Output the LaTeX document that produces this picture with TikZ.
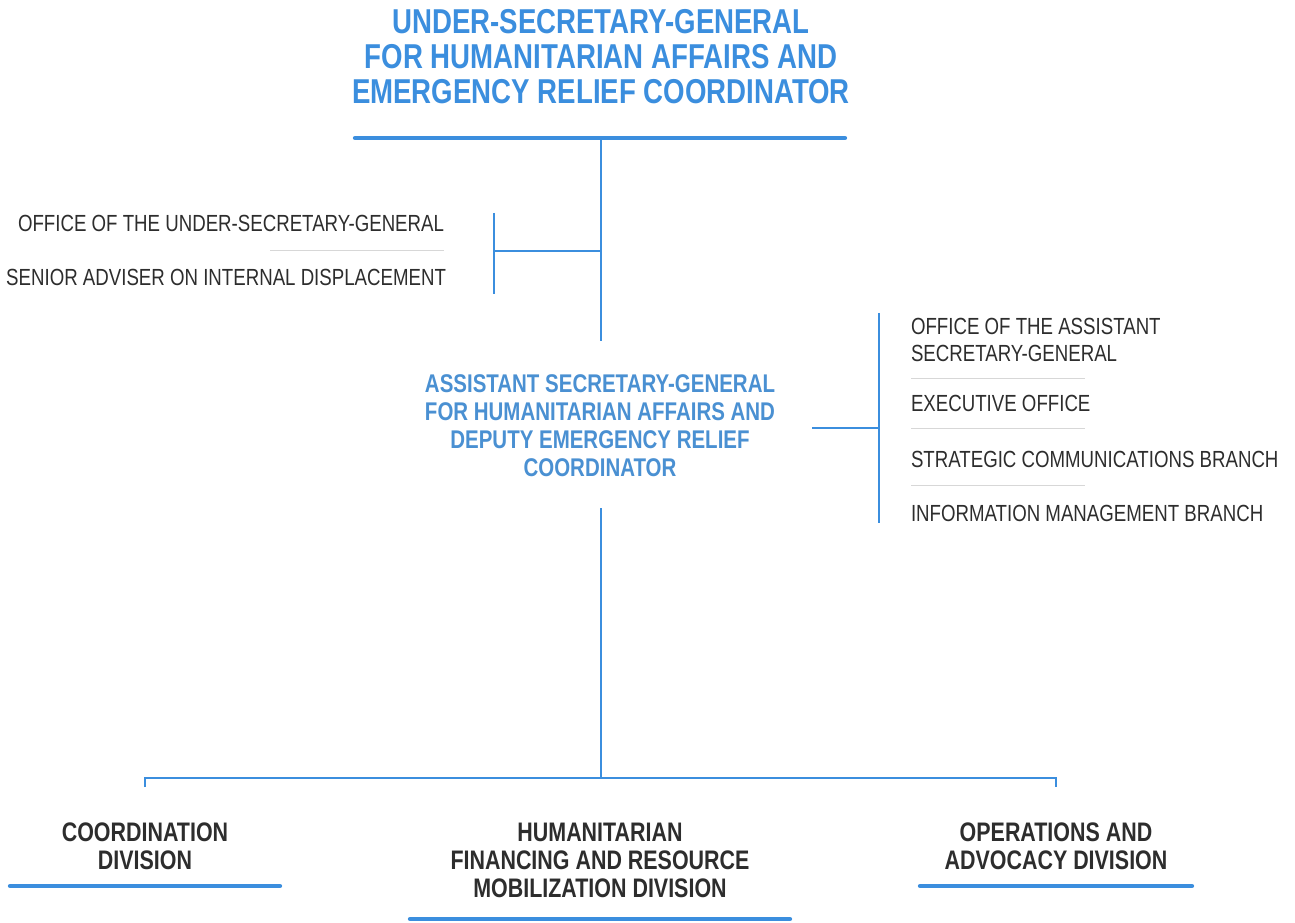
\documentclass[tikz,border=0pt]{standalone}
\usepackage{fontspec}
\setmainfont{Liberation Sans}[FakeStretch=0.80]
\usepackage{xcolor}
\usepackage{tikz}

\definecolor{ochablue}{RGB}{59,142,222}
\definecolor{asgblue}{RGB}{74,144,210}
\definecolor{inkgray}{RGB}{45,45,45}
\definecolor{rulegray}{RGB}{215,215,215}

\begin{document}
\begin{tikzpicture}[
    x=0.75pt, y=-0.75pt,
    every node/.style={inner sep=0pt, outer sep=0pt},
    usgtext/.style={align=center, font=\bfseries\fontsize{25.9}{26.25}\selectfont, text=ochablue},
    asgtext/.style={align=center, font=\bfseries\fontsize{19.2}{21}\selectfont, text=asgblue},
    divtext/.style={align=center, font=\bfseries\fontsize{20.1}{21}\selectfont, text=inkgray},
    unittext/.style={font=\fontsize{17.5}{20}\selectfont, text=inkgray},
    link/.style={draw=ochablue, line width=1.6pt},
    bar/.style={draw=ochablue, line width=3.2pt, line cap=round},
    sepline/.style={draw=rulegray, line width=0.75pt}
]
\useasboundingbox (0,0) rectangle (1295,923);

% Nodes
\node[usgtext] (usg) at (601,56.7) {UNDER-SECRETARY-GENERAL\\FOR HUMANITARIAN AFFAIRS AND\\EMERGENCY RELIEF COORDINATOR};
\node[asgtext] (asg) at (600,425.5) {ASSISTANT SECRETARY-GENERAL\\FOR HUMANITARIAN AFFAIRS AND\\DEPUTY EMERGENCY RELIEF\\COORDINATOR};

\node[unittext, anchor=base east] (ousg) at (444,232) {OFFICE OF THE UNDER-SECRETARY-GENERAL};
\node[unittext, anchor=base east] (idp) at (446,286) {SENIOR ADVISER ON INTERNAL DISPLACEMENT};

\node[unittext, align=left, anchor=west] (oasg) at (911,340) {OFFICE OF THE ASSISTANT\\SECRETARY-GENERAL};
\node[unittext, anchor=base west] (exo) at (911,411) {EXECUTIVE OFFICE};
\node[unittext, anchor=base west] (scb) at (911,467.7) {STRATEGIC COMMUNICATIONS BRANCH};
\node[unittext, anchor=base west] (imb) at (911,521.7) {INFORMATION MANAGEMENT BRANCH};

\node[divtext] (cd) at (145,846) {COORDINATION\\DIVISION};
\node[divtext] (hfrmd) at (600,860) {HUMANITARIAN\\FINANCING AND RESOURCE\\MOBILIZATION DIVISION};
\node[divtext] (oad) at (1056,846) {OPERATIONS AND\\ADVOCACY DIVISION};

% Bars
\draw[bar] (355,138) -- (845,138);
\draw[bar] (10,886) -- (280,886);
\draw[bar] (410,919) -- (790,919);
\draw[bar] (920,886) -- (1192,886);

% Separators
\draw[sepline] (270,251) -- (444,251);
\foreach \y in {378,428,485}
    \draw[sepline] (911,\y) -- (1085,\y);

% Junctions
\coordinate (usgfoot) at (601,138);
\coordinate (asghead) at (601,341);
\coordinate (ousgfork) at (494,251);
\coordinate (ousgtop) at (494,213);
\coordinate (ousgbot) at (494,294);
\coordinate (asgright) at (812,428);
\coordinate (unitstop) at (879,313);
\coordinate (unitsbot) at (879,523);
\coordinate (asgfoot) at (601,508);
\coordinate (busleft) at (145,778);
\coordinate (busright) at (1056,778);

% Links
\draw[link] (usgfoot) -- (asghead);
\draw[link] (ousgfork -| usgfoot) -- (ousgfork);
\draw[link] (ousgtop) -- (ousgbot);
\draw[link] (asgright) -- (asgright -| unitstop);
\draw[link] (unitstop) -- (unitsbot);
\draw[link] (asgfoot) -- (asgfoot |- busleft);
\draw[link] (busleft) ++(0,9) -- (busleft) -- (busright) -- ++(0,9);

\end{tikzpicture}
\end{document}
